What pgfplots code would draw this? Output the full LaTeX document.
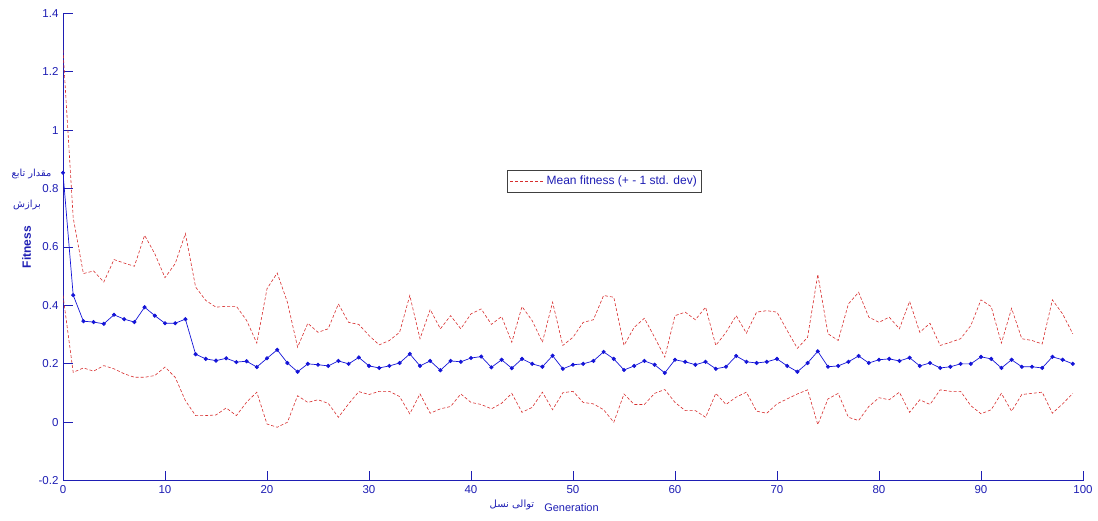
\documentclass[border=0pt]{standalone}
\usepackage{fontspec}
\setmainfont{Liberation Sans}
\newfontfamily\arabicfont[Script=Arabic]{DejaVu Sans}
\TeXXeTstate=1
\usepackage{pgfplots}
\pgfplotsset{compat=1.18}
\usepackage{pgfplotstable}
\definecolor{axblue}{RGB}{30,30,180}
\definecolor{meanblue}{RGB}{20,20,215}
\definecolor{stdred}{RGB}{215,45,45}

\pgfplotstableread{
x mean upper lower
0 0.854 1.274 0.434
1 0.435 0.700 0.171
2 0.346 0.509 0.186
3 0.343 0.518 0.175
4 0.337 0.480 0.194
5 0.368 0.557 0.183
6 0.353 0.545 0.166
7 0.343 0.534 0.154
8 0.394 0.640 0.154
9 0.365 0.577 0.160
10 0.339 0.495 0.189
11 0.339 0.543 0.154
12 0.353 0.646 0.074
13 0.233 0.463 0.023
14 0.217 0.417 0.023
15 0.211 0.394 0.025
16 0.219 0.397 0.049
17 0.206 0.397 0.023
18 0.209 0.349 0.069
19 0.189 0.271 0.103
20 0.219 0.457 -0.006
21 0.248 0.511 -0.017
22 0.203 0.411 0.000
23 0.173 0.257 0.091
24 0.200 0.339 0.068
25 0.197 0.308 0.077
26 0.193 0.320 0.065
27 0.210 0.405 0.017
28 0.200 0.342 0.063
29 0.222 0.335 0.105
30 0.193 0.297 0.095
31 0.186 0.265 0.106
32 0.193 0.280 0.106
33 0.203 0.308 0.088
34 0.234 0.434 0.029
35 0.193 0.286 0.097
36 0.210 0.386 0.031
37 0.178 0.320 0.046
38 0.210 0.365 0.054
39 0.207 0.320 0.097
40 0.220 0.371 0.068
41 0.225 0.388 0.061
42 0.188 0.335 0.046
43 0.214 0.362 0.065
44 0.185 0.274 0.099
45 0.217 0.396 0.034
46 0.200 0.348 0.051
47 0.190 0.274 0.103
48 0.228 0.411 0.043
49 0.183 0.263 0.101
50 0.197 0.291 0.106
51 0.200 0.342 0.068
52 0.210 0.351 0.063
53 0.241 0.434 0.043
54 0.217 0.428 0.000
55 0.179 0.263 0.097
56 0.193 0.325 0.061
57 0.210 0.356 0.061
58 0.197 0.291 0.099
59 0.169 0.223 0.112
60 0.214 0.365 0.068
61 0.207 0.377 0.040
62 0.197 0.351 0.040
63 0.207 0.394 0.017
64 0.183 0.263 0.099
65 0.190 0.308 0.061
66 0.227 0.365 0.086
67 0.207 0.305 0.103
68 0.203 0.377 0.038
69 0.207 0.382 0.031
70 0.217 0.377 0.063
71 0.193 0.314 0.080
72 0.173 0.253 0.097
73 0.203 0.291 0.111
74 0.243 0.506 -0.008
75 0.190 0.303 0.080
76 0.193 0.280 0.099
77 0.207 0.405 0.017
78 0.227 0.445 0.006
79 0.203 0.360 0.054
80 0.214 0.342 0.084
81 0.217 0.360 0.077
82 0.210 0.320 0.103
83 0.221 0.414 0.034
84 0.193 0.308 0.077
85 0.203 0.339 0.061
86 0.186 0.263 0.111
87 0.190 0.274 0.106
88 0.200 0.286 0.106
89 0.200 0.331 0.057
90 0.224 0.419 0.029
91 0.217 0.396 0.043
92 0.186 0.271 0.099
93 0.214 0.390 0.038
94 0.190 0.286 0.095
95 0.190 0.280 0.099
96 0.186 0.268 0.103
97 0.224 0.419 0.031
98 0.214 0.371 0.063
99 0.200 0.303 0.099
}\data

\begin{document}
\begin{tikzpicture}[x=1pt,y=1pt]
\useasboundingbox (0,0) rectangle (1098,520);
\begin{axis}[
  at={(63pt,39.3pt)}, anchor=south west,
  scale only axis, width=1020pt, height=467.4pt,
  xmin=0, xmax=100, ymin=-0.2, ymax=1.4,
  axis lines*=left, tick align=inside,
  axis line style={axblue, line width=0.9pt},
  major tick style={axblue, line width=0.9pt},
  major tick length=10pt,
  xtick={0,10,20,30,40,50,60,70,80,90,100},
  ytick={-0.2,0,0.2,0.4,0.6,0.8,1,1.2,1.4},
  yticklabels={-0.2,0,0.2,0.4,0.6,0.8,1,1.2,1.4},
  /pgf/number format/assume math mode=true,
  tick label style={font=\fontsize{11.5}{13}\selectfont, text=axblue},
  xticklabel style={yshift=-1pt},
  yticklabel style={xshift=-1pt},
  legend style={at={(0.435,0.665)}, anchor=north west,
    draw=black!75, line width=0.6pt, font=\fontsize{12}{14}\selectfont,
    text=axblue, inner xsep=3pt, inner ysep=4pt, row sep=0pt},
  legend cell align=left,
  legend image code/.code={\draw[#1] (0pt,0pt) -- (34pt,0pt);},
]
\addplot[stdred, line width=0.6pt, dash pattern=on 3pt off 2pt] table[x=x,y=upper]{\data};
\addlegendentry{Mean fitness (+ - 1 std. dev)}
\addplot[stdred, line width=0.6pt, dash pattern=on 3pt off 2pt, forget plot] table[x=x,y=lower]{\data};
\addplot[meanblue, line width=0.7pt, mark=*, mark size=1.7pt, mark options={solid, fill=meanblue}, forget plot] table[x=x,y=mean]{\data};
\end{axis}
\node[rotate=90, font=\bfseries\fontsize{12}{14}\selectfont, text=axblue] at (26.7,273) {Fitness};
\node[font=\fontsize{9.8}{11}\selectfont, text=axblue] at (31.5,346) {\arabicfont\beginR مقدار تابع\endR};
\node[font=\fontsize{9.8}{11}\selectfont, text=axblue] at (27,315) {\arabicfont\beginR برازش\endR};
\node[font=\fontsize{11}{13}\selectfont, text=axblue] at (571.5,12) {Generation};
\node[font=\fontsize{10}{12}\selectfont, text=axblue] at (512,15) {\arabicfont\beginR توالی نسل\endR};
\end{tikzpicture}
\end{document}
